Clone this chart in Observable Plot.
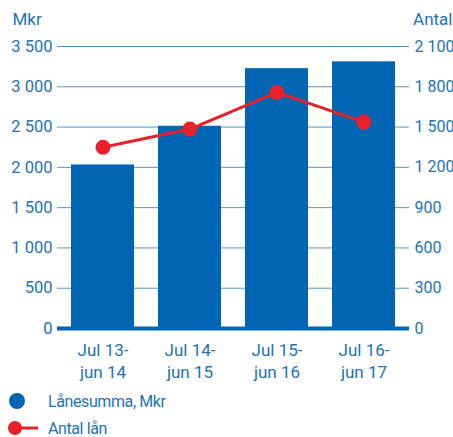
<!DOCTYPE html>
<html><head><meta charset="utf-8">
<script src="https://cdn.jsdelivr.net/npm/d3@7"></script>
<script src="https://cdn.jsdelivr.net/npm/@observablehq/plot@0.6"></script>
<style>
body{margin:0;background:#fff;font-family:Roboto,sans-serif;}
#legend{position:absolute;left:0;top:388px;width:453px;font-family:Roboto,sans-serif;font-size:16px;letter-spacing:-0.4px;color:#2272b9;white-space:nowrap;}
.row{position:relative;height:27px;}
</style></head><body>
<div id="chart"></div>
<div id="legend">
 <div class="row"><svg width="48" height="27" style="position:absolute;left:0;top:0"><circle cx="17" cy="13" r="8" fill="#0066b3"/></svg><span style="position:absolute;left:48px;top:4px">Lånesumma, Mkr</span></div>
 <div class="row"><svg width="48" height="27" style="position:absolute;left:0;top:0"><line x1="15" x2="38" y1="13" y2="13" stroke="#e8202a" stroke-width="3"/><circle cx="15" cy="13" r="7" fill="#e8202a"/></svg><span style="position:absolute;left:48px;top:4px">Antal lån</span></div>
</div>
<script>
const periods = ["Jul 13-\njun 14","Jul 14-\njun 15","Jul 15-\njun 16","Jul 16-\njun 17"];
const lanesumma = [2030, 2510, 3225, 3310];
const antal = [1350, 1485, 1758, 1537];
const leftTicks = [0,500,1000,1500,2000,2500,3000,3500];
const leftLabels = ["0","500","1 000","1 500","2 000","2 500","3 000","3 500"];
const rightLabels = ["0","300","600","900","1 200","1 500","1 800","2 100"];
const ratio = 3500/2100;

const bars = periods.map((p,i)=>({p, v: lanesumma[i]}));
const pts = periods.map((p,i)=>({p, v: antal[i]*ratio}));
const blue = "#0066b3", red = "#e8202a", txt = "#2272b9";

const chart = Plot.plot({
  width: 453, height: 388,
  marginTop: 46, marginBottom: 60, marginLeft: 57, marginRight: 44,
  style: {fontFamily: "Roboto, sans-serif", fontSize: "17px", color: txt, background: "#fff"},
  x: {domain: periods, paddingInner: 0.2727, paddingOuter: 0.1364, axis: null},
  y: {domain: [0, 3500], axis: null},
  marks: [
    Plot.gridY(leftTicks.slice(1), {stroke: "#2a78c0", strokeOpacity: 0.8, strokeWidth: 1}),
    Plot.barY(bars, {x: "p", y: "v", fill: blue}),
    Plot.ruleY([0], {stroke: blue, strokeWidth: 4}),
    Plot.axisY(leftTicks, {anchor: "left", tickSize: 0, tickPadding: 5, tickFormat: (d,i)=>leftLabels[i], label: null, fill: txt, fontSize: 16.5}),
    Plot.axisY(leftTicks, {anchor: "right", tickSize: 0, tickPadding: 5, tickFormat: (d,i)=>rightLabels[i], label: null, fill: txt, fontSize: 16}),
    Plot.axisX({anchor: "bottom", tickSize: 0, tickPadding: 12, label: null, fill: txt, fontSize: 17, lineHeight: 1.3}),
    Plot.lineY(pts, {x: "p", y: "v", stroke: red, strokeWidth: 3}),
    Plot.dot(pts, {x: "p", y: "v", r: 7.5, fill: red}),
    Plot.text(["Mkr"], {frameAnchor: "top-left", dx: -45, dy: -34, fill: txt, fontSize: 17, textAnchor: "start"}),
    Plot.text(["Antal"], {frameAnchor: "top-right", dx: 43, dy: -34, fill: txt, fontSize: 17, textAnchor: "end"})
  ]
});
document.getElementById("chart").appendChild(chart);
</script>
</body></html>
